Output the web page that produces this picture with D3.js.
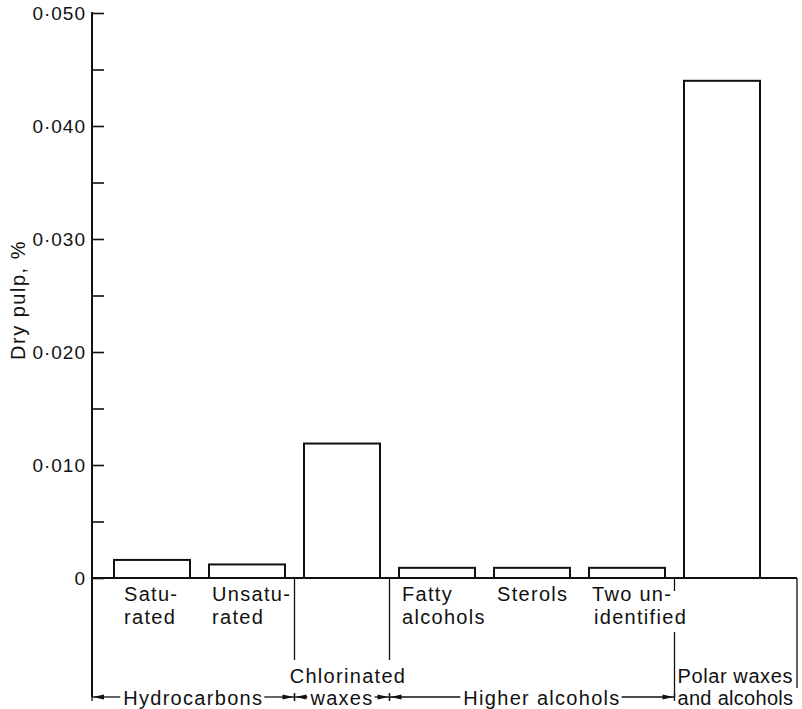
<!DOCTYPE html>
<html>
<head>
<meta charset="utf-8">
<script src="https://cdn.jsdelivr.net/npm/d3@7"></script>
<style>
  body { margin: 0; background: #fff; }
  svg text { font-family: "Liberation Sans", "DejaVu Sans", sans-serif; fill: #111; }
</style>
</head>
<body>
<div id="chart"></div>
<script>
// data
const categories = ["Saturated", "Unsaturated", "Chlorinated waxes", "Fatty alcohols", "Sterols", "Two unidentified", "Polar waxes and alcohols"]
const values = [0.0016, 0.0012, 0.0119, 0.0009, 0.0009, 0.0009, 0.0440]
const barLabels = [["Satu-", "rated"], ["Unsatu-", "rated"], [], ["Fatty", "alcohols"], ["Sterols"], ["Two un-", "identified"], []]
const groupNames = ["Hydrocarbons", "waxes", "Higher alcohols"]
const groupFrom = [0, 2, 3]
const groupTo = [1, 2, 5]
const yTicks = [0, 0.005, 0.01, 0.015, 0.02, 0.025, 0.03, 0.035, 0.04, 0.045, 0.05]
const yLabels = [0, 0.01, 0.02, 0.03, 0.04, 0.05]

const width = 802, height = 709
const svg = d3.select('#chart').append('svg')
    .attr('width', width)
    .attr('height', height)

const axisX = 92
const baseY = 578
const rightEnd = 797
const arrowY = 697
const fontSize = '20px'
const spacing = '1.3px'

const y = d3.scaleLinear().domain([0, 0.05]).range([baseY, 13])
const x = d3.scaleBand()
    .domain(categories)
    .range([104.5, 769.5])
    .paddingInner(0.2)
    .paddingOuter(0.1)

const fmt = v => v === 0 ? "0" : d3.format(".3f")(v).replace(".", "\u00b7")

// boundary between category i and i+1
const gap = x.step() * x.paddingInner() / 2
const boundAfter = i => x(categories[i]) + x.bandwidth() + gap
const boundBefore = i => i === 0 ? axisX : boundAfter(i - 1)

// y axis, ticks pointing inward
const yAxis = d3.axisRight(y)
    .tickValues(yTicks)
    .tickSize(12)
    .tickFormat('')
const gy = svg.append('g')
    .attr('transform', `translate(${axisX},0)`)
    .call(yAxis)
gy.select('.domain').remove()
gy.selectAll('.tick line').attr('stroke', '#111').attr('stroke-width', 1.6)

svg.append('line')
    .attr('x1', axisX).attr('x2', axisX)
    .attr('y1', y(0.05) - 1).attr('y2', arrowY)
    .attr('stroke', '#111').attr('stroke-width', 2)

svg.selectAll('.ylab')
    .data(yLabels)
    .enter()
    .append('text')
    .attr('class', 'ylab')
    .attr('x', axisX - 6)
    .attr('y', d => y(d))
    .attr('dy', '0.36em')
    .attr('text-anchor', 'end')
    .style('font-size', '19px')
    .style('letter-spacing', '1px')
    .text(fmt)

svg.append('text')
    .attr('transform', `translate(25,300) rotate(-90)`)
    .attr('text-anchor', 'middle')
    .style('font-size', '20px')
    .style('letter-spacing', '1.5px')
    .text('Dry pulp, %')

// bars
svg.selectAll('.bar')
    .data(values)
    .enter()
    .append('rect')
    .attr('class', 'bar')
    .attr('x', (d, i) => x(categories[i]))
    .attr('y', d => y(d))
    .attr('width', x.bandwidth())
    .attr('height', d => baseY - y(d))
    .style('fill', '#fff')
    .style('stroke', '#111')
    .style('stroke-width', 2)

// baseline
svg.append('line')
    .attr('x1', axisX).attr('x2', rightEnd)
    .attr('y1', baseY).attr('y2', baseY)
    .attr('stroke', '#111').attr('stroke-width', 2)

// category labels under bars
barLabels.forEach((lines, i) => {
    lines.forEach((t, j) => {
        svg.append('text')
            .attr('x', x(categories[i]) + (i === 0 ? 10 : 3) + (i === 5 && j === 1 ? 2 : 0))
            .attr('y', 601 + j * 23)
            .style('font-size', fontSize)
            .style('letter-spacing', spacing)
            .text(t)
    })
})

const sep = (x0, y1, y2) => svg.append('line')
    .attr('x1', x0).attr('x2', x0)
    .attr('y1', y1).attr('y2', y2)
    .attr('stroke', '#111').attr('stroke-width', 1.3)

// separators
sep(boundAfter(1), baseY, 660)
sep(boundAfter(2), baseY, 660)
sep(boundAfter(5), baseY, 591)
sep(boundAfter(5), 632, arrowY)
sep(rightEnd, baseY, 688)

// labels of single-bar groups
const cx2 = (boundAfter(1) + boundAfter(2)) / 2
svg.append('text').attr('x', cx2 + 6).attr('y', 683)
    .attr('text-anchor', 'middle')
    .style('font-size', fontSize).style('letter-spacing', spacing)
    .text('Chlorinated')
svg.append('text').attr('x', boundAfter(5) + 3).attr('y', 683)
    .style('font-size', fontSize).style('letter-spacing', '0.6px')
    .text('Polar waxes')
svg.append('text').attr('x', boundAfter(5) + 3).attr('y', 705)
    .style('font-size', fontSize).style('letter-spacing', '0.3px')
    .text('and alcohols')

// group arrows
const arrowHead = (xTip, dir) => svg.append('path')
    .attr('d', `M${xTip},${arrowY} L${xTip + dir * 11},${arrowY - 2.5} L${xTip + dir * 11},${arrowY + 2.5} Z`)
    .style('fill', '#111')

groupNames.forEach((name, k) => {
    const x0 = boundBefore(groupFrom[k])
    const x1 = boundAfter(groupTo[k])
    const cx = (x0 + x1) / 2 + (k === 2 ? 10 : 0)
    const t = svg.append('text')
        .attr('x', cx).attr('y', 705)
        .attr('text-anchor', 'middle')
        .style('font-size', fontSize)
        .style('letter-spacing', spacing)
        .text(name)
    const w = t.node().getComputedTextLength()
    svg.append('line')
        .attr('x1', x0).attr('x2', cx - w / 2 - 3)
        .attr('y1', arrowY).attr('y2', arrowY)
        .attr('stroke', '#111').attr('stroke-width', 1.3)
    svg.append('line')
        .attr('x1', cx + w / 2 + 1).attr('x2', x1)
        .attr('y1', arrowY).attr('y2', arrowY)
        .attr('stroke', '#111').attr('stroke-width', 1.3)
    arrowHead(x0 + 1, 1)
    arrowHead(x1 - 1, -1)
    sep(x0, arrowY - 4, arrowY + 4)
    sep(x1, arrowY - 4, arrowY + 4)
})
</script>
</body>
</html>
